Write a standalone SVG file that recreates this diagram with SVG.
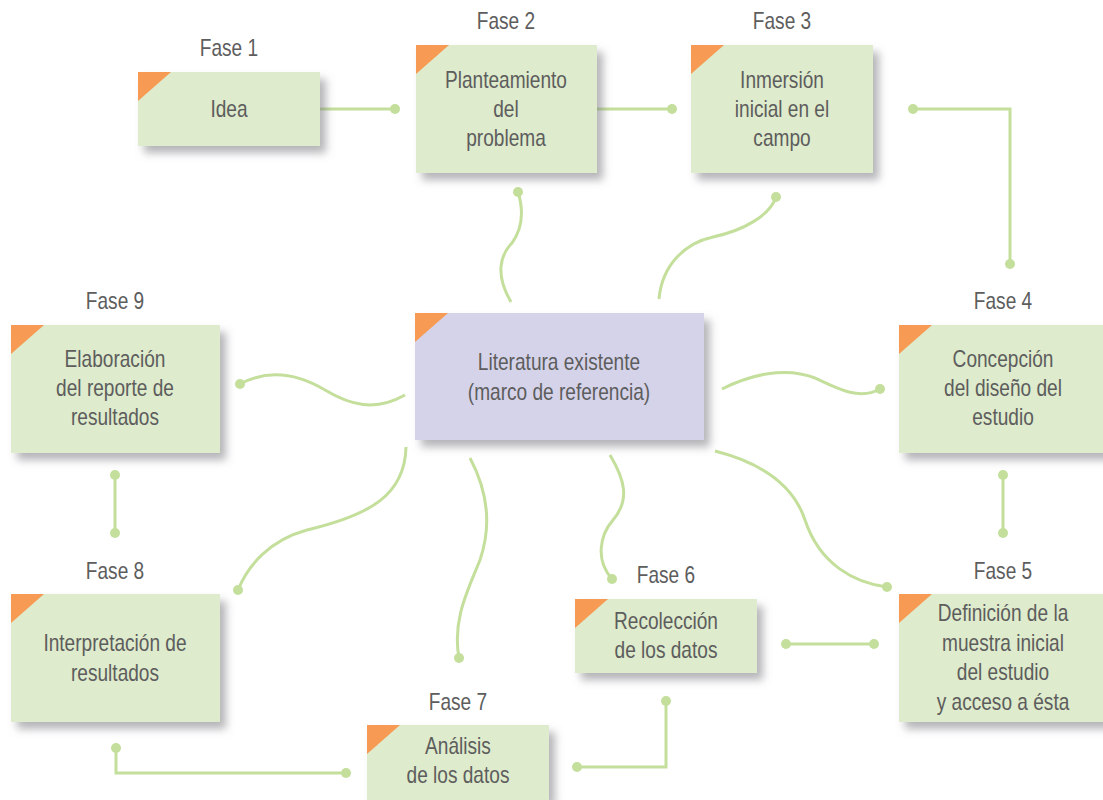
<svg xmlns="http://www.w3.org/2000/svg" width="1103" height="800" viewBox="0 0 1103 800">
<style>
.box{fill:#deebcc;filter:url(#sh)}
.center{fill:#d5d3e9;filter:url(#sh)}
.tri{fill:#f79a53}
text{font-family:"Liberation Sans Narrow","Liberation Sans",Arial,sans-serif;font-size:23px;fill:#5d5d5d;text-anchor:middle;transform-box:fill-box;transform-origin:center;transform:scaleX(0.83)}
.c{fill:none;stroke:#c4df9b;stroke-width:3}
.d{fill:#c4df9b}
</style>
<defs>
<filter id="sh" x="-10%" y="-10%" width="130%" height="140%">
<feDropShadow dx="6" dy="7" stdDeviation="4" flood-color="#7a7a80" flood-opacity="0.55"/>
</filter>
</defs>
<rect width="1103" height="800" fill="#ffffff"/>
<g id="connectors">
<path class="c" d="M320,109H395"/><circle class="d" cx="395" cy="109" r="5"/>
<path class="c" d="M597,109H672"/><circle class="d" cx="672" cy="109" r="5"/>
<path class="c" d="M913,109H1010V264"/><circle class="d" cx="913" cy="109" r="5"/><circle class="d" cx="1010" cy="264" r="5"/>
<path class="c" d="M511,302C495,275 500,255 512,243C525,225 522,205 518,192"/><circle class="d" cx="518" cy="192" r="5"/>
<path class="c" d="M659,299C662,265 685,243 713,237C745,230 770,215 776,197"/><circle class="d" cx="776" cy="197" r="5"/>
<path class="c" d="M405,395C375,412 350,405 325,390C300,375 270,368 240,384"/><circle class="d" cx="240" cy="384" r="5"/>
<path class="c" d="M722,389C750,375 785,366 815,378C840,390 860,400 880,389"/><circle class="d" cx="880" cy="389" r="5"/>
<path class="c" d="M1003,475V533"/><circle class="d" cx="1003" cy="475" r="5"/><circle class="d" cx="1003" cy="533" r="5"/>
<path class="c" d="M115,475V533"/><circle class="d" cx="115" cy="475" r="5"/><circle class="d" cx="115" cy="533" r="5"/>
<path class="c" d="M406,447C405,495 370,515 307,530C270,540 248,565 238,590"/><circle class="d" cx="238" cy="590" r="5"/>
<path class="c" d="M470,458C487,490 492,525 480,560C468,590 452,620 459,658"/><circle class="d" cx="459" cy="658" r="5"/>
<path class="c" d="M610,455C625,480 630,500 613,520C600,535 595,560 612,579"/><circle class="d" cx="612" cy="579" r="5"/>
<path class="c" d="M715,451C770,465 795,490 805,520C820,565 855,583 887,587"/><circle class="d" cx="887" cy="587" r="5"/>
<path class="c" d="M786,644H874"/><circle class="d" cx="786" cy="644" r="5"/><circle class="d" cx="874" cy="644" r="5"/>
<path class="c" d="M666,701V767H577"/><circle class="d" cx="666" cy="701" r="5"/><circle class="d" cx="577" cy="767" r="5"/>
<path class="c" d="M116,748V773H346"/><circle class="d" cx="116" cy="748" r="5"/><circle class="d" cx="346" cy="773" r="5"/>
</g>
<g id="fase1">
<text x="229" y="56">Fase 1</text>
<rect class="box" x="138" y="72" width="182" height="74"/>
<polygon class="tri" points="138,72 171,72 138,101"/>
<text x="229" y="117">Idea</text>
</g>
<g id="fase2">
<text x="506" y="29">Fase 2</text>
<rect class="box" x="416" y="45" width="181" height="128"/>
<polygon class="tri" points="416,45 449,45 416,74"/>
<text x="506" y="88">Planteamiento</text>
<text x="506" y="117">del</text>
<text x="506" y="146">problema</text>
</g>
<g id="fase3">
<text x="782" y="29">Fase 3</text>
<rect class="box" x="691" y="45" width="182" height="128"/>
<polygon class="tri" points="691,45 724,45 691,74"/>
<text x="782" y="88">Inmersión</text>
<text x="782" y="117">inicial en el</text>
<text x="782" y="146">campo</text>
</g>
<g id="fase4">
<text x="1003" y="309">Fase 4</text>
<rect class="box" x="899" y="325" width="209" height="128"/>
<polygon class="tri" points="899,325 932,325 899,354"/>
<text x="1003" y="367">Concepción</text>
<text x="1003" y="396">del diseño del</text>
<text x="1003" y="425">estudio</text>
</g>
<g id="fase5">
<text x="1003" y="579">Fase 5</text>
<rect class="box" x="899" y="594" width="209" height="128"/>
<polygon class="tri" points="899,594 932,594 899,623"/>
<text x="1003" y="621">Definición de la</text>
<text x="1003" y="651">muestra inicial</text>
<text x="1003" y="680">del estudio</text>
<text x="1003" y="710">y acceso a ésta</text>
</g>
<g id="fase6">
<text x="666" y="583">Fase 6</text>
<rect class="box" x="575" y="599" width="182" height="74"/>
<polygon class="tri" points="575,599 608,599 575,628"/>
<text x="666" y="629">Recolección</text>
<text x="666" y="658">de los datos</text>
</g>
<g id="fase7">
<text x="458" y="710">Fase 7</text>
<rect class="box" x="367" y="725" width="182" height="75"/>
<polygon class="tri" points="367,725 400,725 367,754"/>
<text x="458" y="754">Análisis</text>
<text x="458" y="783">de los datos</text>
</g>
<g id="fase8">
<text x="115" y="579">Fase 8</text>
<rect class="box" x="11" y="594" width="209" height="128"/>
<polygon class="tri" points="11,594 44,594 11,623"/>
<text x="115" y="651">Interpretación de</text>
<text x="115" y="681">resultados</text>
</g>
<g id="fase9">
<text x="115" y="309">Fase 9</text>
<rect class="box" x="11" y="325" width="209" height="128"/>
<polygon class="tri" points="11,325 44,325 11,354"/>
<text x="115" y="367">Elaboración</text>
<text x="115" y="396">del reporte de</text>
<text x="115" y="425">resultados</text>
</g>
<g id="literatura">
<rect class="center" x="415" y="313" width="289" height="127"/>
<polygon class="tri" points="415,313 448,313 415,342"/>
<text x="559" y="370">Literatura existente</text>
<text x="559" y="400">(marco de referencia)</text>
</g>
</svg>
